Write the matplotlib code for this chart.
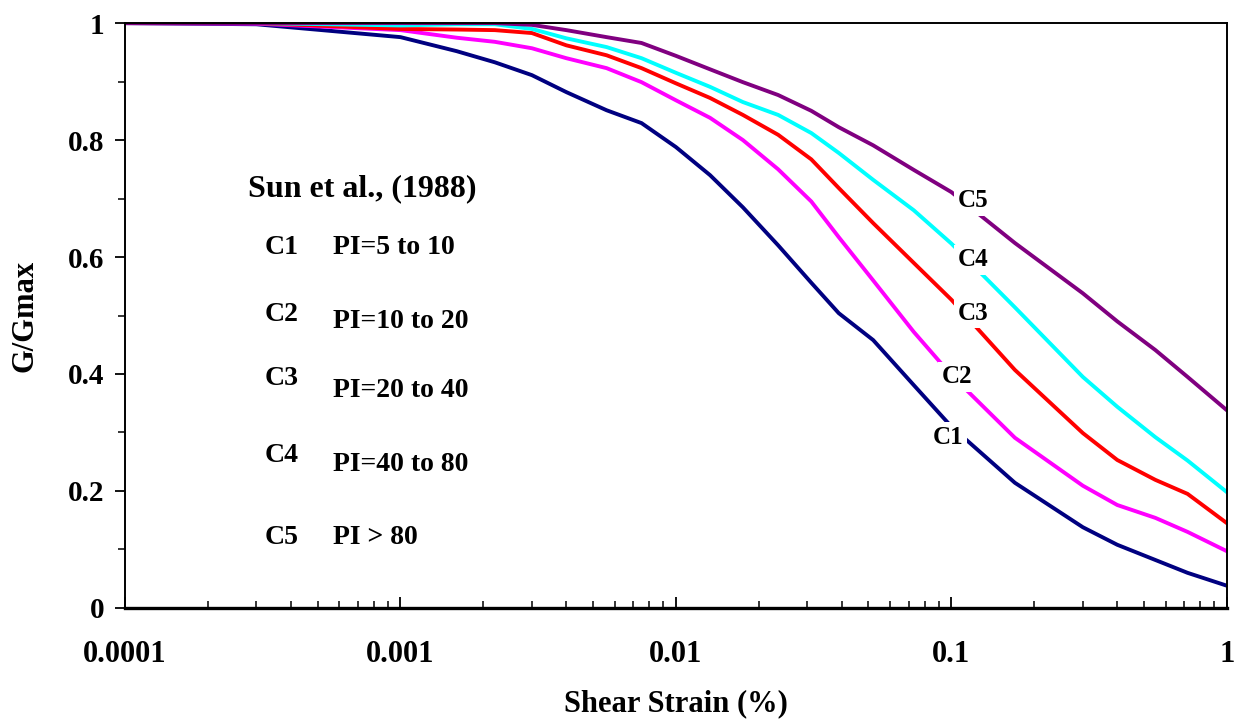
import matplotlib
matplotlib.use("Agg")
import matplotlib.pyplot as plt
from matplotlib.ticker import LogLocator, FixedLocator, NullFormatter, FixedFormatter

plt.rcParams['font.family'] = ['Liberation Serif', 'DejaVu Serif']
plt.rcParams['font.weight'] = 'bold'

# shear strain (%) where the curves bend
strain = [0.0001, 0.0003, 0.001, 0.0016, 0.0022, 0.003, 0.004, 0.0056, 0.0075,
          0.01, 0.0133, 0.0175, 0.0235, 0.031, 0.039, 0.052, 0.073, 0.1,
          0.17, 0.3, 0.4, 0.55, 0.72, 1.0]

c1 = [1.0, 0.998, 0.976, 0.952, 0.933, 0.911, 0.882, 0.851, 0.829,
      0.788, 0.740, 0.685, 0.620, 0.556, 0.504, 0.458, 0.381, 0.310,
      0.214, 0.138, 0.108, 0.082, 0.060, 0.038]
c2 = [1.0, 0.999, 0.988, 0.975, 0.968, 0.957, 0.940, 0.923, 0.899,
      0.868, 0.838, 0.800, 0.750, 0.695, 0.634, 0.560, 0.472, 0.398,
      0.291, 0.209, 0.176, 0.154, 0.130, 0.097]
c3 = [1.0, 1.0, 0.990, 0.989, 0.988, 0.983, 0.962, 0.945, 0.923,
      0.897, 0.872, 0.843, 0.809, 0.767, 0.718, 0.658, 0.590, 0.527,
      0.407, 0.299, 0.253, 0.219, 0.195, 0.145]
c4 = [1.0, 1.0, 0.996, 0.998, 0.998, 0.990, 0.974, 0.959, 0.940,
      0.915, 0.891, 0.865, 0.843, 0.812, 0.778, 0.732, 0.680, 0.623,
      0.514, 0.395, 0.344, 0.292, 0.252, 0.198]
c5 = [1.0, 1.0, 1.0, 1.0, 1.0, 0.997, 0.988, 0.976, 0.966,
      0.944, 0.921, 0.899, 0.877, 0.850, 0.822, 0.791, 0.749, 0.711,
      0.624, 0.538, 0.490, 0.441, 0.395, 0.338]

curves = [c1, c2, c3, c4, c5]
colors = ['#000080', '#FF00FF', '#FF0000', '#00FFFF', '#800080']
curve_names = ['C1', 'C2', 'C3', 'C4', 'C5']

# where the C-labels sit on the curves
label_x = [0.097, 0.105, 0.12, 0.12, 0.12]
label_y = [0.292, 0.395, 0.504, 0.595, 0.696]

pi_text = ['PI=5 to 10', 'PI=10 to 20', 'PI=20 to 40', 'PI=40 to 80', 'PI > 80']

x_major = [0.0001, 0.001, 0.01, 0.1, 1]
x_major_labels = ['0.0001', '0.001', '0.01', '0.1', '1']
y_major = [0, 0.2, 0.4, 0.6, 0.8, 1]
y_major_labels = ['0', '0.2', '0.4', '0.6', '0.8', '1']

fig = plt.figure(figsize=(12.38, 7.22), dpi=100)
ax = fig.add_axes([0.101, 0.158, 0.890, 0.810])

for vals, col in zip(curves, colors):
    ax.plot(strain, vals, color=col, lw=2.8, solid_joinstyle='miter')

for name, lx, ly in zip(curve_names, label_x, label_y):
    ax.text(lx, ly, name, fontsize=18, fontweight='bold', ha='center', va='center',
            bbox=dict(facecolor='white', edgecolor='none', pad=2.5), zorder=5)

ax.set_xscale('log')
ax.set_xlim(0.0001, 1)
ax.set_ylim(0, 1)

ax.xaxis.set_major_locator(FixedLocator(x_major))
ax.xaxis.set_major_formatter(FixedFormatter(x_major_labels))
ax.xaxis.set_minor_locator(LogLocator(base=10, subs=range(2, 10)))
ax.xaxis.set_minor_formatter(NullFormatter())
ax.yaxis.set_major_locator(FixedLocator(y_major))
ax.yaxis.set_major_formatter(FixedFormatter(y_major_labels))
ax.yaxis.set_minor_locator(FixedLocator([0.1, 0.3, 0.5, 0.7, 0.9]))

ax.tick_params(axis='x', which='major', direction='in', length=8, width=1.3,
               labelsize=22, pad=23)
ax.tick_params(axis='x', which='minor', direction='in', length=5, width=1.1)
ax.tick_params(axis='y', which='major', direction='out', length=7, width=1.3,
               labelsize=21, pad=8)
ax.tick_params(axis='y', which='minor', direction='out', length=5, width=1.1)

for sp in ax.spines.values():
    sp.set_linewidth(1.4)
ax.spines['bottom'].set_linewidth(2.4)

ax.set_xlabel('Shear Strain (%)', fontsize=22, fontweight='bold', labelpad=15)
ax.set_ylabel('G/Gmax', fontsize=22, fontweight='bold', labelpad=20)

# legend block written as text
ax.text(0.112, 0.716, 'Sun et al., (1988)', transform=ax.transAxes,
        fontsize=23, fontweight='bold', va='center')
c_rows = [0.616, 0.501, 0.393, 0.26, 0.12]
pi_rows = [0.616, 0.489, 0.371, 0.245, 0.12]
for name, pi, cy, py in zip(curve_names, pi_text, c_rows, pi_rows):
    ax.text(0.127, cy, name, transform=ax.transAxes, fontsize=20,
            fontweight='bold', va='center')
    ax.text(0.189, py, pi, transform=ax.transAxes, fontsize=20,
            fontweight='bold', va='center')

fig.savefig('out.png', dpi=100)
